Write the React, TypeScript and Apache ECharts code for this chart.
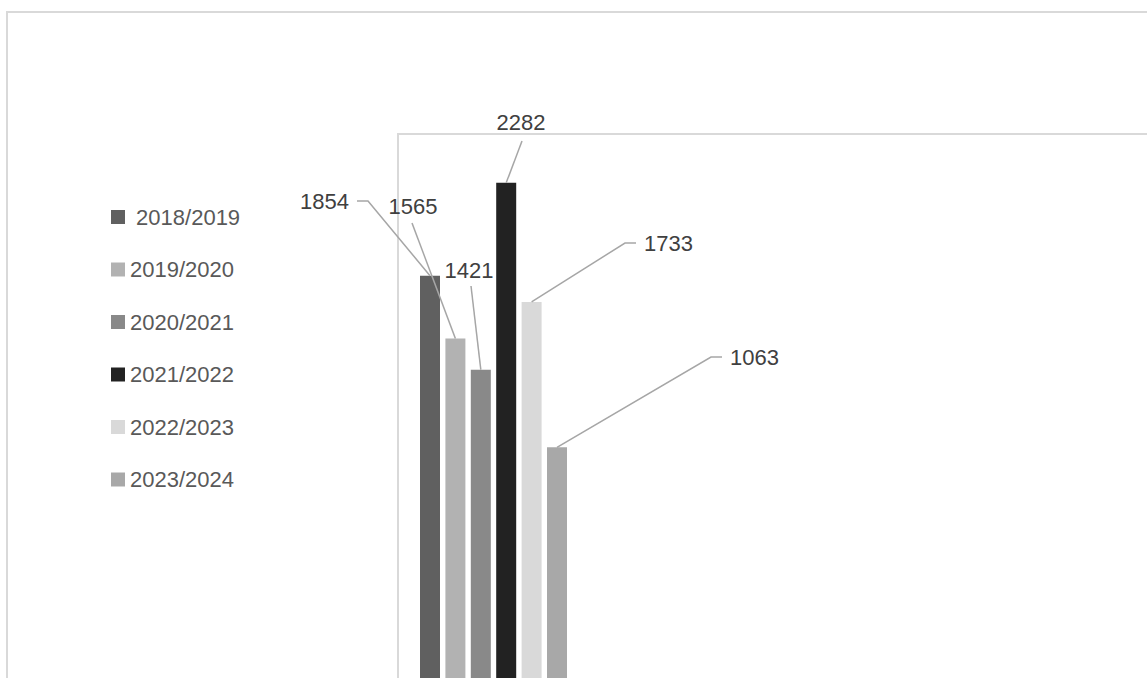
import React, { useEffect, useRef } from 'react';
import * as echarts from 'echarts';

const categories = ['Total'];
const seasons = ['2018/2019', '2019/2020', '2020/2021', '2021/2022', '2022/2023', '2023/2024'];
const values = [1854, 1565, 1421, 2282, 1733, 1063];
const colors = ['#606060', '#b2b2b2', '#898989', '#222222', '#d9d9d9', '#a8a8a8'];

// label placement in pixels, and leader-line bend points (from the bar side toward the label)
const labelSpots: { x: number; y: number; align: string; guide: number[][] }[] = [
  { x: 349, y: 201, align: 'right', guide: [[368, 201], [357, 201]] },
  { x: 413, y: 206, align: 'center', guide: [[412, 223]] },
  { x: 469, y: 270, align: 'center', guide: [[471, 286]] },
  { x: 521, y: 122, align: 'center', guide: [[522, 141]] },
  { x: 644, y: 243, align: 'left', guide: [[625, 243], [636, 243]] },
  { x: 730, y: 357, align: 'left', guide: [[711, 357], [722, 357]] },
];

const FONT = "'Liberation Sans', Arial, Helvetica, sans-serif";

const borders = [
  {
    type: 'rect',
    shape: { x: 7, y: 12, width: 1300, height: 800 },
    style: { fill: 'none', stroke: '#d9d9d9', lineWidth: 2 },
    silent: true,
    z: -10,
  },
  {
    type: 'rect',
    shape: { x: 398, y: 134, width: 1000, height: 800 },
    style: { fill: 'none', stroke: '#d9d9d9', lineWidth: 2 },
    silent: true,
    z: -10,
  },
];

export default function App() {
  const ref = useRef<HTMLDivElement>(null);
  useEffect(() => {
    if (!ref.current) return;
    const chart = echarts.init(ref.current, undefined, { renderer: 'svg' });
    const series = seasons.map((name, i) => ({
      name,
      type: 'bar',
      data: [values[i]],
      barWidth: 20,
      barGap: '27%',
      itemStyle: { color: colors[i] },
      label: {
        show: true,
        position: 'top',
        formatter: '{c}',
        color: '#404040',
        fontSize: 22,
        fontFamily: FONT,
      },
      labelLayout: (params: any) => {
        const s = labelSpots[params.seriesIndex];
        return { x: s.x, y: s.y, align: s.align, verticalAlign: 'middle' };
      },
    }));
    chart.setOption({
      animation: false,
      backgroundColor: '#ffffff',
      graphic: borders,
      legend: {
        orient: 'vertical',
        left: 111,
        top: 206,
        padding: 0,
        itemWidth: 14,
        itemHeight: 14,
        itemGap: 30.5,
        icon: 'rect',
        data: seasons,
        formatter: (name: string) => (name === seasons[0] ? ' ' + name : name),
        textStyle: { color: '#595959', fontSize: 22, fontFamily: FONT, lineHeight: 22 },
      },
      grid: { left: 398, top: 135.5, width: 191, height: 543.6, show: false },
      xAxis: { type: 'category', data: categories, show: false },
      yAxis: { type: 'value', min: 0, max: 2500, show: false },
      series,
    });

    // leader lines: start at each bar's top centre as laid out by ECharts
    try {
      const model = (chart as any).getModel();
      const lines = seasons.map((_, i) => {
        const lay = model.getSeriesByIndex(i).getData().getItemLayout(0);
        const top = [lay.x + lay.width / 2, Math.min(lay.y, lay.y + lay.height)];
        return {
          type: 'polyline',
          shape: { points: [top, ...labelSpots[i].guide] },
          style: { stroke: '#a6a6a6', lineWidth: 1.5, fill: 'none' },
          silent: true,
          z: 100,
        };
      });
      chart.setOption({ graphic: [...borders, ...lines] });
    } catch (e) {
      // ignore
    }
    return () => chart.dispose();
  }, []);
  return (
    <div
      ref={ref}
      style={{ position: 'fixed', left: 0, top: 0, width: 1147, height: 678, background: '#fff' }}
    />
  );
}
